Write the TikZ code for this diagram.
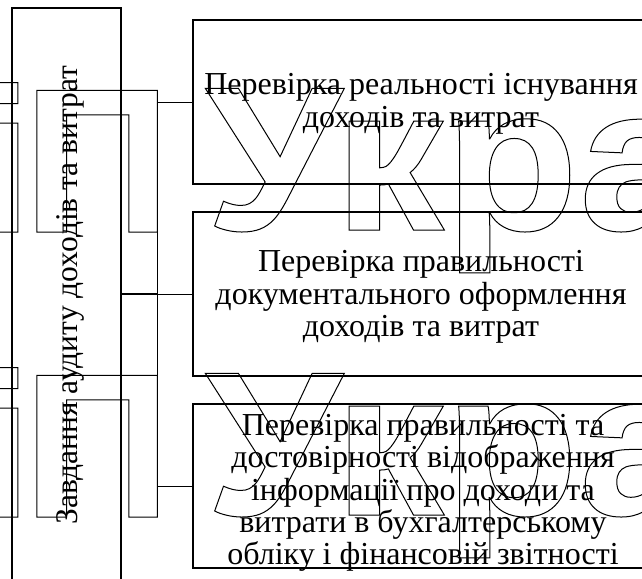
\documentclass[tikz,border=0pt]{standalone}
\usepackage{fontspec}
\setmainfont{Liberation Serif}
\newfontfamily\wmfont{Liberation Sans}
\newfontfamily\wmwide{Liberation Sans}[FakeStretch=1.07]
\newcommand\outl[1]{\special{pdf:literal direct 1 Tr 1 w}#1\special{pdf:literal direct 0 Tr}}
\begin{document}
\begin{tikzpicture}[x=1pt,y=-1pt,
  box/.style={draw, line width=1.6pt, inner sep=0pt},
  conn/.style={line width=0.9pt},
  txt/.style={font=\fontsize{32}{32.4}\selectfont, align=center, inner sep=0pt},
  wm/.style={font=\wmfont\bfseries\fontsize{206}{206}\selectfont, inner sep=0pt, anchor=base west},
  wmw/.style={wm, font=\wmwide\bfseries\fontsize{206}{206}\selectfont}]
\useasboundingbox (0,0) rectangle (642,578);
\clip (0,0) rectangle (642,578);
% watermark
\foreach \dy in {0,285} {
  \node[wm] (wi\dy) at (-25, 232+\dy) {\outl{і}};
  \node[wm] (wp\dy) at (23, 232+\dy) {\outl{П}};
  \node[wmw] (wu\dy) at (205, 230+\dy) {\outl{Укра}};
}
% left box
\node[box, minimum width=109pt, minimum height=575pt] (left) at (66.5,295.5) {};
\node[txt, font=\fontsize{31.5}{32.4}\selectfont, rotate=90] (lefttxt) at (70,295) {Завдання аудиту доходів та витрат};
% right boxes
\node[box, minimum width=454pt, minimum height=164pt] (b1) at (420,102) {};
\node[box, minimum width=454pt, minimum height=164pt] (b2) at (420,294) {};
\node[box, minimum width=454pt, minimum height=164pt] (b3) at (420,486) {};
\node[txt] (t1) at (421,104) {Перевірка реальності існування\\доходів та витрат};
\node[txt] (t2) at (421,297) {Перевірка правильності\\документального оформлення\\доходів та витрат};
\node[txt] (t3) at (423,493) {Перевірка правильності та\\достовірності відображення\\інформації про доходи та\\витрати в бухгалтерському\\обліку і фінансовій звітності};
% connectors
\coordinate (bx) at (157,294);
\draw[line width=1.6pt] (left.east |- bx) -- (bx);
\draw[conn] (b1.west -| bx) -- (b3.west -| bx);
\draw[conn] (b1.west -| bx) -- (b1.west);
\draw[conn] (bx) -- (b2.west);
\draw[conn] (b3.west -| bx) -- (b3.west);
\end{tikzpicture}
\end{document}
